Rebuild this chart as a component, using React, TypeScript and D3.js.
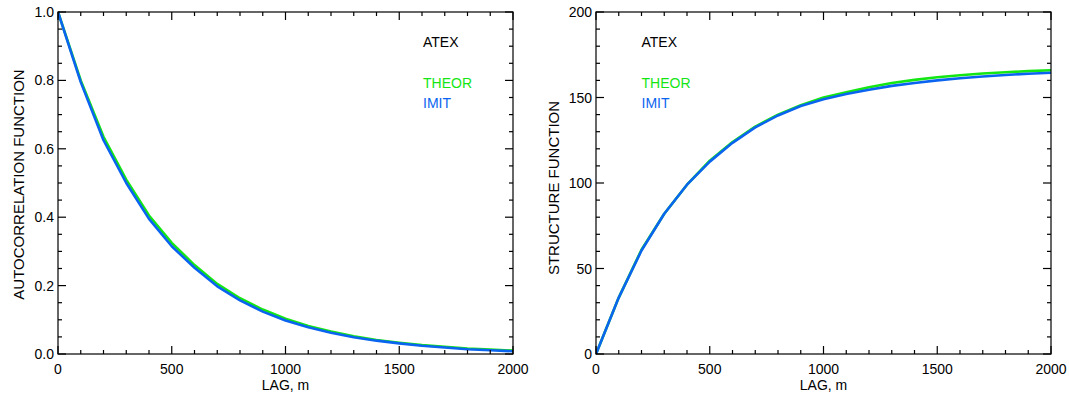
import React from "react";
import * as d3 from "d3";

const lags = [0, 100, 200, 300, 400, 500, 600, 700, 800, 900, 1000, 1100, 1200, 1300, 1400, 1500, 1600, 1700, 1800, 1900, 2000];

const acfTheor = [1.0, 0.80, 0.635, 0.51, 0.405, 0.325, 0.26, 0.205, 0.163, 0.13, 0.103, 0.082, 0.066, 0.052, 0.041, 0.033, 0.026, 0.021, 0.016, 0.013, 0.010];
const acfImit = [1.0, 0.795, 0.625, 0.50, 0.395, 0.315, 0.252, 0.198, 0.157, 0.124, 0.098, 0.078, 0.062, 0.049, 0.039, 0.031, 0.024, 0.019, 0.014, 0.011, 0.008];

const sfTheor = [0, 33, 61, 82, 99, 113, 124, 133, 140, 145.5, 150, 153, 156, 158.5, 160.3, 161.8, 163, 164, 164.8, 165.4, 165.9];
const sfImit = [0, 33, 60.5, 82, 99, 112.5, 123.5, 132.5, 139.5, 145, 149, 152, 154.5, 156.8, 158.5, 160, 161.3, 162.3, 163.2, 163.9, 164.5];

const xTicks = [0, 500, 1000, 1500, 2000];
const acfTicks = [0.0, 0.2, 0.4, 0.6, 0.8, 1.0];
const sfTicks = [0, 50, 100, 150, 200];

const legendTitle = "ATEX";
const seriesNames = ["THEOR", "IMIT"];

const GREEN = "#14e614";
const BLUE = "#0a64f0";
const FONT = "'Liberation Sans', Arial, Helvetica, sans-serif";

type PanelProps = {
  left: number;
  yDomain: [number, number];
  yTicks: number[];
  yMinorStep: number;
  yFormat: (v: number) => string;
  yTitle: string;
  titleX: number;
  titleY: number;
  theor: number[];
  imit: number[];
  legendX: number;
};

const TOP = 12;
const BOTTOM = 354;
const WIDTH = 455;

function Panel(p: PanelProps) {
  const x = d3.scaleLinear().domain([0, 2000]).range([p.left, p.left + WIDTH]);
  const y = d3.scaleLinear().domain(p.yDomain).range([BOTTOM, TOP]);
  const xMinor = d3.range(0, 2000.001, 100);
  const yMinor = d3.range(p.yDomain[0], p.yDomain[1] + 1e-9, p.yMinorStep);
  const line = d3
    .line<number>()
    .x((_, i) => x(lags[i]))
    .y((d) => y(d));
  const x0 = x(0), x1 = x(2000);
  const major = 8, minor = 4;
  const isMajorX = (v: number) => Math.abs(v % 500) < 1e-6;
  const isMajorY = (v: number) => p.yTicks.some((t) => Math.abs(t - v) < 1e-6);
  return (
    <g>
      <defs>
        <clipPath id={`clip${p.left}`}>
          <rect x={x0} y={TOP - 2} width={WIDTH + 2} height={BOTTOM - TOP + 4} />
        </clipPath>
      </defs>
      <g clipPath={`url(#clip${p.left})`}>
        <path d={line(p.theor) || ""} fill="none" stroke={GREEN} strokeWidth={2.6} strokeLinejoin="round" />
        <path d={line(p.imit) || ""} fill="none" stroke={BLUE} strokeWidth={2.6} strokeLinejoin="round" />
      </g>
      <rect x={x0} y={TOP} width={WIDTH} height={BOTTOM - TOP} fill="none" stroke="#000" strokeWidth={1.2} />
      {xMinor.map((v) => {
        const L = isMajorX(v) ? major : minor;
        const xv = x(v);
        return (
          <g key={"xt" + v}>
            <line x1={xv} x2={xv} y1={BOTTOM} y2={BOTTOM - L} stroke="#000" strokeWidth={1.2} />
            <line x1={xv} x2={xv} y1={TOP} y2={TOP + L} stroke="#000" strokeWidth={1.2} />
          </g>
        );
      })}
      {yMinor.map((v) => {
        const L = isMajorY(v) ? major : minor;
        const yv = y(v);
        return (
          <g key={"yt" + v}>
            <line x1={x0} x2={x0 + L} y1={yv} y2={yv} stroke="#000" strokeWidth={1.2} />
            <line x1={x1} x2={x1 - L} y1={yv} y2={yv} stroke="#000" strokeWidth={1.2} />
          </g>
        );
      })}
      {xTicks.map((v) => (
        <text key={"xl" + v} x={x(v)} y={374} textAnchor="middle" fontSize={14} fontFamily={FONT}>
          {v}
        </text>
      ))}
      {p.yTicks.map((v) => (
        <text key={"yl" + v} x={x0 - 4} y={y(v) + 5} textAnchor="end" fontSize={14} fontFamily={FONT}>
          {p.yFormat(v)}
        </text>
      ))}
      <text x={(x0 + x1) / 2} y={390} textAnchor="middle" fontSize={14} fontFamily={FONT}>
        LAG, m
      </text>
      <text
        transform={`translate(${p.titleX},${p.titleY}) rotate(-90)`}
        textAnchor="middle"
        fontSize={15}
        fontFamily={FONT}
      >
        {p.yTitle}
      </text>
      <text x={p.legendX} y={46.5} fontSize={14} fontFamily={FONT} fill="#000">
        {legendTitle}
      </text>
      <text x={p.legendX} y={87.5} fontSize={14} fontFamily={FONT} fill={GREEN}>
        {seriesNames[0]}
      </text>
      <text x={p.legendX} y={108} fontSize={14} fontFamily={FONT} fill={BLUE}>
        {seriesNames[1]}
      </text>
    </g>
  );
}

export default function App() {
  return (
    <svg
      width={1069}
      height={393}
      style={{ position: "absolute", left: 0, top: 0, background: "#fff" }}
    >
      <rect width={1069} height={393} fill="#fff" />
      <Panel
        left={58}
        yDomain={[0, 1]}
        yTicks={acfTicks}
        yMinorStep={0.05}
        yFormat={(v) => v.toFixed(1)}
        yTitle="AUTOCORRELATION FUNCTION"
        titleX={24}
        titleY={184.5}
        theor={acfTheor}
        imit={acfImit}
        legendX={423}
      />
      <Panel
        left={596}
        yDomain={[0, 200]}
        yTicks={sfTicks}
        yMinorStep={10}
        yFormat={(v) => String(v)}
        yTitle="STRUCTURE FUNCTION"
        titleX={559}
        titleY={188}
        theor={sfTheor}
        imit={sfImit}
        legendX={641.5}
      />
    </svg>
  );
}
